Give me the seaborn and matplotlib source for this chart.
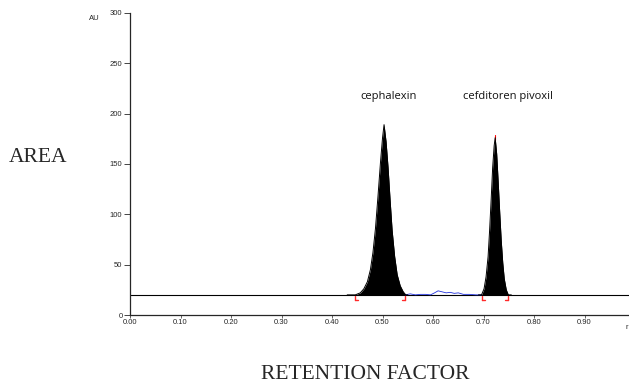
import numpy as np
import pandas as pd
import matplotlib
matplotlib.use("Agg")
import matplotlib.pyplot as plt
import seaborn as sns

# peak profiles (retention factor, AU)
ceph_x = [0.430, 0.446, 0.456, 0.463, 0.470, 0.476, 0.481, 0.486, 0.491, 0.496, 0.500, 0.503,
          0.507, 0.511, 0.515, 0.519, 0.524, 0.529, 0.535, 0.541, 0.546, 0.550]
ceph_y = [20, 20, 22, 26, 33, 45, 62, 86, 118, 152, 176, 189,
          172, 146, 114, 84, 58, 40, 29, 23, 20, 20]
cefd_x = [0.690, 0.696, 0.701, 0.705, 0.709, 0.712, 0.715, 0.718, 0.721, 0.723,
          0.726, 0.729, 0.732, 0.735, 0.738, 0.741, 0.745, 0.749, 0.755]
cefd_y = [20, 20, 26, 38, 58, 84, 114, 146, 168, 176,
          160, 132, 102, 74, 52, 36, 25, 20, 20]
noise_x = [0.545, 0.555, 0.565, 0.575, 0.585, 0.595, 0.603, 0.610, 0.618,
           0.626, 0.634, 0.642, 0.650, 0.660, 0.672, 0.685, 0.696]
noise_y = [20, 21, 20, 20.5, 20.5, 20, 22, 24, 23, 22, 22.5, 21.5, 22, 20.5, 20.5, 20, 20]
bounds = [0.446, 0.545, 0.696, 0.749]
baseline = 20
xticks = [0.0, 0.1, 0.2, 0.3, 0.4, 0.5, 0.6, 0.7, 0.8, 0.9]
yticks = [0, 50, 100, 150, 200, 250, 300]

sns.set_style("ticks")
fig = plt.figure(figsize=(6.29, 3.85), dpi=100)
ax = fig.add_axes([0.2067, 0.1818, 0.7933, 0.7848])

ceph = pd.DataFrame({"x": ceph_x, "y": ceph_y})
cefd = pd.DataFrame({"x": cefd_x, "y": cefd_y})
noise = pd.DataFrame({"x": noise_x, "y": noise_y})

ax.axhline(baseline, color="black", lw=0.8, zorder=1)
for d in [ceph, cefd]:
    ax.fill_between(d["x"], baseline, d["y"], color="black", lw=0, zorder=2)
    sns.lineplot(data=d, x="x", y="y", color="black", lw=0.7, ax=ax, zorder=3)
sns.lineplot(data=noise, x="x", y="y", color="#2233dd", lw=0.6, ax=ax, zorder=2)
ax.plot([0.723, 0.723], [174, 179], color="red", lw=0.8)

# integration markers
for i, b in enumerate(bounds):
    d = 0.006 if i % 2 == 0 else -0.006
    ax.plot([b, b], [baseline - 5, baseline - 1], color="#ff2a2a", lw=1.0)
    ax.plot([b, b + d], [baseline - 5, baseline - 5], color="#ff2a2a", lw=1.0)

ax.text(0.512, 211, "cephalexin", fontsize=8, ha="center", va="bottom",
        family="Open Sans", color="#111111")
ax.text(0.749, 211, "cefditoren pivoxil", fontsize=8, ha="center", va="bottom",
        family="Open Sans", color="#111111")

ax.set_xlim(0, 0.988)
ax.set_ylim(0, 300)
ax.set_xticks(xticks)
ax.set_xticklabels([f"{t:.2f}" for t in xticks])
ax.set_yticks(yticks)
ax.tick_params(axis="y", labelsize=5.5, length=4, width=0.6, pad=1.5)
ax.tick_params(axis="x", labelsize=5.5, length=2, width=0.5, pad=1)
for lab in ax.get_xticklabels() + ax.get_yticklabels():
    lab.set_family("Liberation Sans")
ax.set_xlabel("")
ax.set_ylabel("")
sns.despine(ax=ax)
ax.spines["left"].set_linewidth(0.9)
ax.spines["bottom"].set_linewidth(0.9)

fig.text(0.150, 0.953, "AU", fontsize=5.5, family="Liberation Sans", ha="center", va="center")
fig.text(0.998, 0.15, "r", fontsize=5.5, family="Liberation Sans", ha="right", va="center")
fig.text(0.061, 0.59, "AREA", fontsize=15.5, family="Liberation Serif", ha="center", va="center")
fig.text(0.58, 0.026, "RETENTION FACTOR", fontsize=15.5, family="Liberation Serif",
         ha="center", va="center")

fig.savefig("out.png", dpi=100)
